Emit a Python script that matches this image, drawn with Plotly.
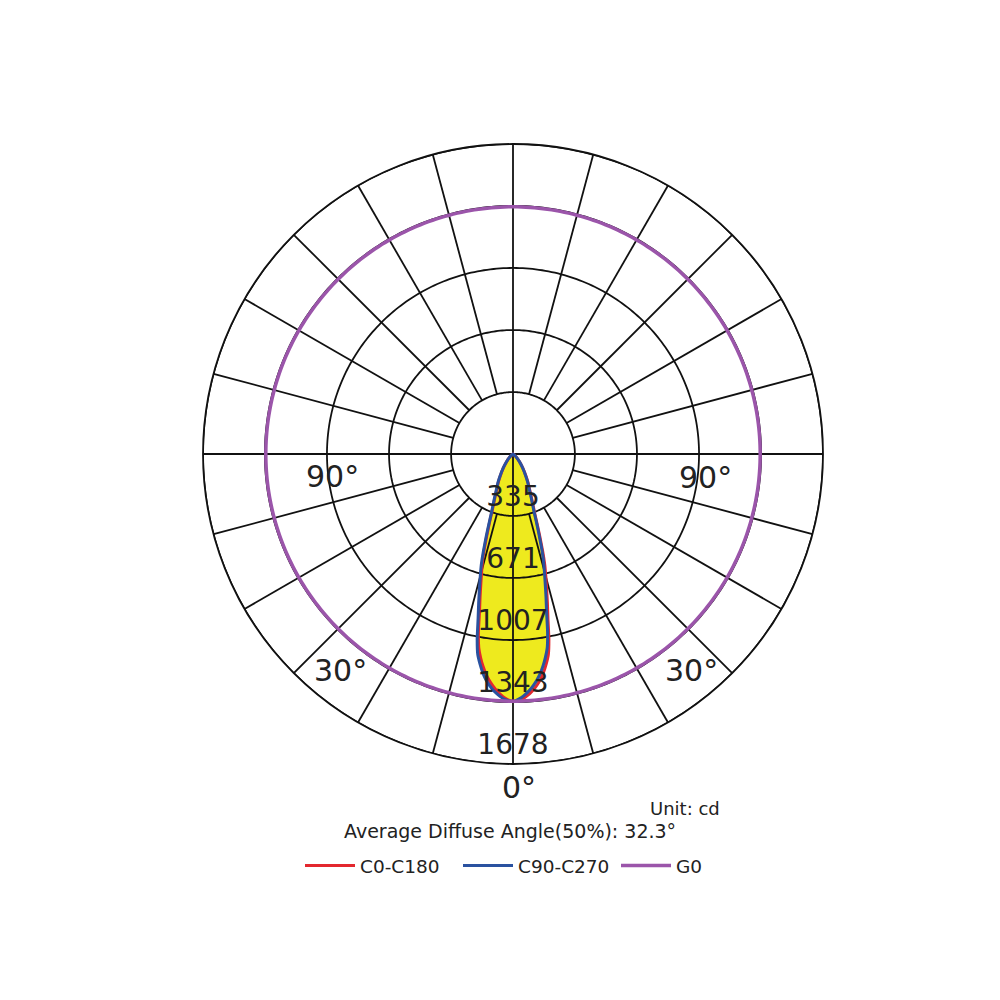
import numpy as np
import plotly.graph_objects as go

# ---- data ----
ring_values = [335, 671, 1007, 1343, 1678]
ring_labels = ["335", "671", "1007", "1343", "1678"]
spoke_step = 15

angles = [0, 1, 2, 3, 4, 5, 6, 7, 8, 9, 10, 11, 12, 13, 14, 15, 16, 17, 18, 19, 20,
          22.5, 25, 27.5, 30, 35, 40, 45, 50, 55, 60, 90]
c0 = [1340, 1337, 1330, 1316, 1300, 1280, 1256, 1228, 1192, 1150, 1102, 1018, 910, 828, 752, 686,
      624, 548, 470, 403, 347, 267, 214, 178, 145, 93, 56, 31, 14, 5, 0, 0]
c180 = [1338, 1332, 1320, 1303, 1283, 1259, 1232, 1200, 1162, 1118, 1066, 980, 872, 792, 718, 654,
        596, 522, 450, 387, 333, 257, 206, 172, 139, 89, 54, 29, 13, 5, 0, 0]
c90 = [1338, 1331, 1319, 1302, 1282, 1258, 1231, 1199, 1161, 1117, 1066, 981, 874, 794, 720, 656,
       598, 524, 451, 388, 334, 258, 207, 172, 140, 90, 54, 29, 13, 5, 0, 0]
c270 = [1340, 1336, 1329, 1315, 1298, 1278, 1254, 1226, 1190, 1148, 1100, 1016, 908, 826, 750, 684,
        622, 546, 469, 402, 346, 266, 213, 178, 144, 92, 56, 30, 14, 5, 0, 0]
g0_value = 1338

angle_labels = ["0°", "30°", "30°", "90°", "90°"]
unit_text = "Unit: cd"
diffuse_text = "Average Diffuse Angle(50%): 32.3°"

RED = "#E3282E"
BLUE = "#2A52A0"
PURPLE = "#9B55AA"
YELLOW = "#EEEA1E"
GRID = "#111111"
TXT = "#222222"
FONT = "DejaVu Sans"

PAGE_MARGIN = 8  # default body margin of the html page


def px_x(px):
    return (px - PAGE_MARGIN) / 1000


def px_y(py):
    return 1 - (py - PAGE_MARGIN) / 1000


def side_curve(right, left):
    th = [-a for a in angles[::-1]] + angles[1:]
    r = list(left[::-1]) + list(right[1:])
    return th, r


fig = go.Figure()

# yellow envelope
env_r = np.maximum(c0, c90).tolist()
env_l = np.maximum(c180, c270).tolist()
th_env, r_env = side_curve(env_r, env_l)
fig.add_trace(go.Scatterpolar(theta=th_env, r=r_env, mode="lines", fill="toself",
                              fillcolor=YELLOW, line=dict(color=YELLOW, width=0),
                              showlegend=False, hoverinfo="skip"))

# rings
circ = np.arange(0, 361, 1)
for rv in ring_values:
    fig.add_trace(go.Scatterpolar(theta=circ, r=[rv] * len(circ), mode="lines",
                                  line=dict(color=GRID, width=1.8), showlegend=False, hoverinfo="skip"))

# spokes
sth, sr = [], []
for a in range(0, 360, spoke_step):
    start = 0 if a % 90 == 0 else ring_values[0]
    sth += [a, a, None]
    sr += [start, ring_values[-1], None]
fig.add_trace(go.Scatterpolar(theta=sth, r=sr, mode="lines", connectgaps=False,
                              line=dict(color=GRID, width=1.8), showlegend=False, hoverinfo="skip"))

# curves
th_red, r_red = side_curve(c0, c180)
th_blue, r_blue = side_curve(c90, c270)
fig.add_trace(go.Scatterpolar(theta=th_red, r=r_red, mode="lines", name="C0-C180",
                              line=dict(color=RED, width=3, shape="spline", smoothing=0.4)))
fig.add_trace(go.Scatterpolar(theta=th_blue, r=r_blue, mode="lines", name="C90-C270",
                              line=dict(color=BLUE, width=3, shape="spline", smoothing=0.4)))
fig.add_trace(go.Scatterpolar(theta=circ, r=[g0_value] * len(circ), mode="lines", name="G0",
                              line=dict(color=PURPLE, width=3.5)))

# ring labels
R_PX = 310
offset = 17 * ring_values[-1] / R_PX
fig.add_trace(go.Scatterpolar(theta=[0] * len(ring_values), r=[v - offset for v in ring_values],
                              mode="text", text=ring_labels, textposition="middle center",
                              textfont=dict(family=FONT, size=28, color=TXT),
                              showlegend=False, hoverinfo="skip", cliponaxis=False))

cx, cy = 513, 454
fig.update_layout(
    width=1000, height=1000,
    margin=dict(l=0, r=0, t=0, b=0),
    paper_bgcolor="white",
    showlegend=True,
    polar=dict(
        domain=dict(x=[px_x(cx - R_PX), px_x(cx + R_PX)],
                    y=[px_y(cy + R_PX), px_y(cy - R_PX)]),
        bgcolor="white",
        radialaxis=dict(range=[0, ring_values[-1]], showgrid=False, showline=False,
                        showticklabels=False, ticks=""),
        angularaxis=dict(rotation=-90, direction="counterclockwise", showgrid=False,
                         showticklabels=False, ticks="", showline=True,
                         linecolor=GRID, linewidth=1.8),
    ),
    legend=dict(orientation="h", x=px_x(300), xanchor="left", y=px_y(866), yanchor="middle",
                font=dict(family=FONT, size=18.5, color=TXT), itemwidth=50,
                entrywidth=93, entrywidthmode="pixels",
                bgcolor="rgba(0,0,0,0)"),
)

label_pos = [(519, 787), (340, 670), (691, 670), (332, 476), (705, 477)]
for txt, (px, py) in zip(angle_labels, label_pos):
    fig.add_annotation(x=px_x(px), y=px_y(py), xref="paper", yref="paper",
                       text=txt, showarrow=False, xanchor="center", yanchor="middle",
                       font=dict(family=FONT, size=30, color=TXT))

fig.add_annotation(x=px_x(685), y=px_y(808), xref="paper", yref="paper", text=unit_text,
                   showarrow=False, xanchor="center", yanchor="middle",
                   font=dict(family=FONT, size=18, color=TXT))
fig.add_annotation(x=px_x(510), y=px_y(831), xref="paper", yref="paper", text=diffuse_text,
                   showarrow=False, xanchor="center", yanchor="middle",
                   font=dict(family=FONT, size=19, color=TXT))

fig.write_html("out.html")
